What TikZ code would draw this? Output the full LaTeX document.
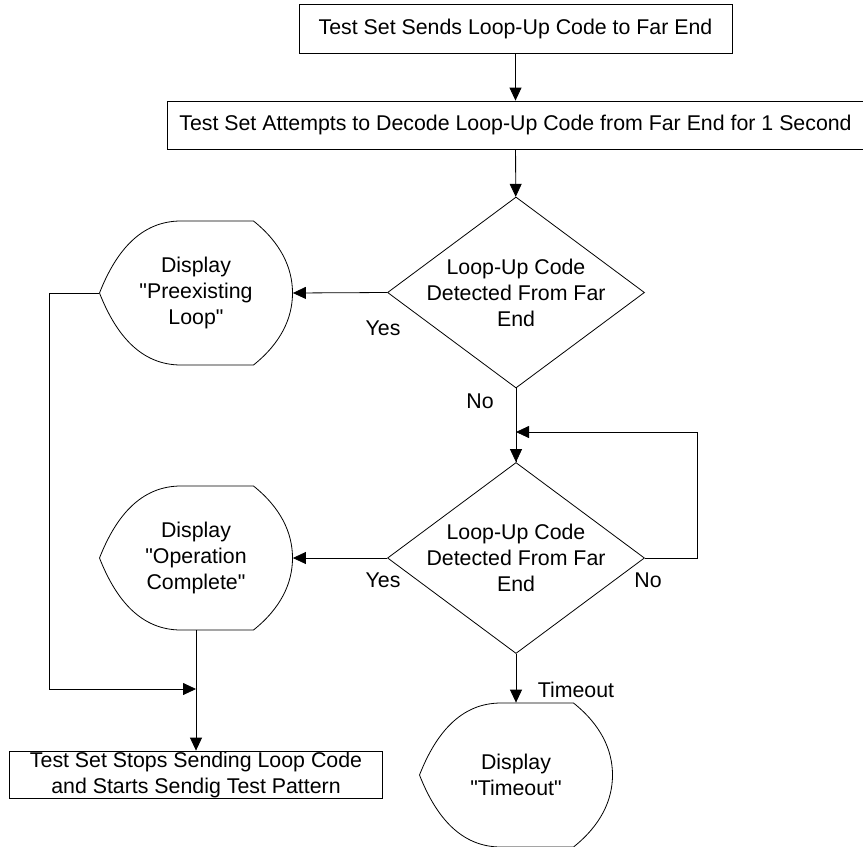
\documentclass[tikz,border=0pt]{standalone}
\usepackage{fontspec}
\setmainfont{Liberation Sans}[Ligatures=TeXOff]
\usetikzlibrary{shapes.geometric,arrows.meta}

\tikzset{
  box/.style={draw,rectangle,inner sep=0pt,align=center},
  decision/.style={draw,diamond,aspect=1.35,minimum width=192.75pt,minimum height=143.25pt,inner sep=-8pt,align=center},
  display/.style={minimum width=144.75pt,minimum height=108pt,inner sep=0pt,align=center},
  arr/.style={-{Triangle[length=9.75pt,width=9pt]}}
}
\newcommand{\dispoutline}[1]{%
  \draw[shift={(#1.center)}] (-96.5,0) .. controls (-80,-42) and (-55,-72) .. (-15,-72) -- (57.5,-72)
    .. controls (85,-50) and (96.5,-25) .. (96.5,0) .. controls (96.5,25) and (85,50) .. (57.5,72)
    -- (-15,72) .. controls (-55,72) and (-80,42) .. (-96.5,0) -- cycle;}

\begin{document}
\begin{tikzpicture}[x=0.75pt,y=-0.75pt,line width=0.6pt,font=\fontsize{16pt}{19.5pt}\selectfont]
\useasboundingbox (0,0) rectangle (863,846);

\node (send) at (515.5,28.5) [box,minimum width=324.75pt,minimum height=36.75pt] {Test Set Sends Loop-Up Code to Far End};
\node (decode) at (515.5,125) [box,minimum width=522.75pt,minimum height=36pt] {Test Set Attempts to Decode Loop-Up Code from Far End for 1 Second};
\node (check1) at (516,292.5) [decision] {Loop-Up Code\\Detected From Far\\End};
\node (check2) at (516,558) [decision] {Loop-Up Code\\Detected From Far\\End};
\node (preloop) at (196,293) [display] {Display\\"Preexisting\\Loop"};
\node (opdone) at (196,558) [display] {Display\\"Operation\\Complete"};
\node (tmout) at (516,775) [display] {Display\\"Timeout"};
\node (stopsend) at (196,774.5) [box,minimum width=279.75pt,minimum height=35.25pt] {Test Set Stops Sending Loop Code\\and Starts Sendig Test Pattern};
\dispoutline{preloop}
\dispoutline{opdone}
\dispoutline{tmout}

\coordinate (loopin) at (516,432);
\coordinate (merge) at (196,689);

\draw[arr] (send) -- (decode);
\draw[arr] (decode) -- (check1);
\draw[arr] (check1.west) -- (preloop.east);
\draw (check1.south) -- (check2.north);
\draw[arr] (loopin) -- (check2.north);
\draw[arr] (check2.east) -- ++(52,0) |- (loopin);
\draw[arr] (check2.west) -- (opdone.east);
\draw[arr] (check2.south) -- (tmout.north);
\draw[arr] (opdone.south) -- (stopsend.north);
\draw[arr] (preloop.west) -- ++(-50,0) |- (merge);

\node (yes1) at (383,328) {Yes};
\node (no1) at (480,401) {No};
\node (yes2) at (383,580) {Yes};
\node (no2) at (648,580) {No};
\node (tlabel) at (576,690) {Timeout};
\end{tikzpicture}
\end{document}
